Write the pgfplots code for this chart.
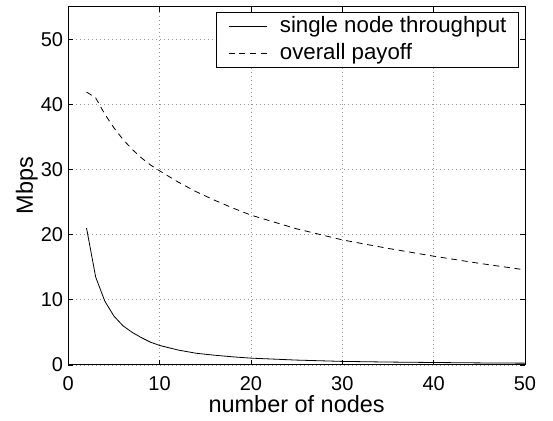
\documentclass[border=0pt]{standalone}
\usepackage{fontspec}
\setmainfont{Liberation Sans}
\usepackage{pgfplots}
\pgfplotsset{compat=1.18}
\begin{document}
\begin{tikzpicture}
\begin{axis}[
  scale only axis,
  width=342.5pt, height=268.7pt,
  xmin=0, xmax=50, ymin=0, ymax=55,
  xtick={0,10,20,30,40,50},
  ytick={0,10,20,30,40,50},
  tick align=inside,
  xtick pos=both, ytick pos=both,
  major tick length=3.75pt,
  grid=major,
  major grid style={dash pattern=on 0.75pt off 2.25pt, gray!80, line width=0.5pt},
  axis line style={line width=0.75pt},
  tick style={black, line width=0.5pt},
  /pgf/number format/assume math mode=true,
  tick label style={font=\fontsize{15}{17}\selectfont},
  xticklabel style={inner sep=0pt, anchor=north, yshift=-8.5pt},
  yticklabel style={inner sep=0pt, anchor=east, xshift=-3.75pt},
  label style={font=\fontsize{17.6}{20}\selectfont},
  xlabel={number of nodes},
  ylabel={Mbps},
  xlabel style={at={(axis description cs:0.5,-0.1330)}, anchor=base, inner sep=0pt},
  ylabel style={at={(axis description cs:-0.0774,0.5)}, anchor=base, inner sep=0pt},
  legend style={at={(rel axis cs:1,1)}, xshift=-4.5pt, yshift=-3.75pt, anchor=north east,
    draw=black, line width=0.75pt,
    font=\fontsize{16.7}{19}\selectfont,
    cells={anchor=west},
    inner xsep=9pt, inner ysep=3pt,
    nodes={inner sep=0pt, text height=12.5pt, text depth=3.5pt},
    column sep=9.75pt, row sep=3.7pt},
  legend image code/.code={\draw[mark repeat=2,mark phase=2,#1] plot coordinates {(0pt,0pt) (14pt,0pt) (28.5pt,0pt)};},
]
\coordinate (ll) at (rel axis cs:0,0);
\coordinate (ur) at (rel axis cs:1,1);
\addplot[black, line width=0.6pt] coordinates {
(2,21)(3,13.5)(4,9.8)(5,7.5)(6,6)(7,5)(8,4.2)(9,3.5)(10,3.0)(12,2.3)(14,1.8)(16,1.5)(18,1.25)(20,1.05)(25,0.75)(30,0.55)(35,0.45)(40,0.38)(45,0.32)(50,0.28)
};
\addlegendentry{single node throughput}
\addplot[black, line width=0.6pt, dash pattern=on 4.5pt off 3.5pt] coordinates {
(2,41.9)(3,41)(4,38.5)(5,36.4)(6,34.6)(7,33.1)(8,31.8)(9,30.7)(10,29.8)(12,28.1)(14,26.6)(16,25.3)(18,24.1)(20,23.0)(25,20.9)(30,19.2)(35,17.9)(40,16.7)(45,15.6)(50,14.6)
};
\addlegendentry{overall payoff}
\end{axis}
\pgfresetboundingbox
\path[use as bounding box] ([xshift=-51.2pt,yshift=-42pt]ll) rectangle ([xshift=21pt,yshift=5pt]ur);
\end{tikzpicture}
\end{document}
